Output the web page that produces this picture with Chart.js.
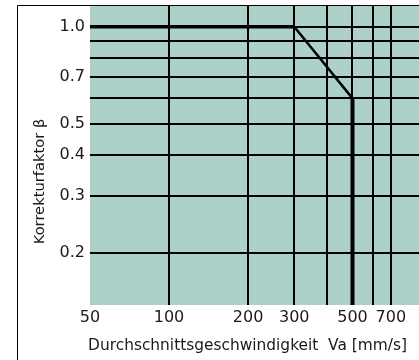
<!DOCTYPE html>
<html>
<head>
<meta charset="utf-8">
<script src="https://cdn.jsdelivr.net/npm/chart.js@4/dist/chart.umd.min.js"></script>
<style>
  html, body { margin: 0; padding: 0; background: #fff; overflow: hidden; }
  #wrap { width: 419px; height: 360px; }
</style>
</head>
<body>
<div id="wrap"><canvas id="c" width="419" height="360"></canvas></div>
<script>
// Average speed Va [mm/s] and correction factor beta
const speedPoints = [50, 300, 500, 500];
const betaPoints = [1.0, 1.0, 0.6, 0.1];

// Grid positions and labelled ticks
const speedGrid = [50, 100, 200, 300, 400, 500, 600, 700];
const speedLabels = [50, 100, 200, 300, 500, 700];
const betaGrid = [0.2, 0.3, 0.4, 0.5, 0.6, 0.7, 0.8, 0.9, 1.0];
const betaLabels = [0.2, 0.3, 0.4, 0.5, 0.7, 1.0];

// Axis titles
const xTitle = 'Durchschnittsgeschwindigkeit  Va [mm/s]';
const yTitle = 'Korrekturfaktor β';

// Line width of each curve segment: flat part, slope, cut-off
const segmentWidths = [3.5, 2.5, 4];

const FONT = '"DejaVu Sans", sans-serif';
const TEXT = '#1a1a1a';

// teal plot box and the thin frame around the whole figure
const framePlugin = {
  id: 'frame',
  beforeDraw(chart) {
    const { ctx, chartArea: a } = chart;
    ctx.save();
    ctx.fillStyle = '#add0c9';
    ctx.fillRect(a.left, a.top, a.right - a.left, a.bottom - a.top);
    ctx.strokeStyle = '#000';
    ctx.lineWidth = 1;
    ctx.beginPath();
    ctx.moveTo(17.5, chart.height);
    ctx.lineTo(17.5, 5.5);
    ctx.lineTo(chart.width, 5.5);
    ctx.stroke();
    ctx.restore();
  }
};

// axis titles, centred on the framed figure rather than the plot box
const titlePlugin = {
  id: 'axisTitles',
  afterDraw(chart) {
    const { ctx } = chart;
    ctx.save();
    ctx.fillStyle = TEXT;
    ctx.font = '15.4px ' + FONT;
    ctx.textAlign = 'center';
    ctx.textBaseline = 'alphabetic';
    ctx.fillText(xTitle, 247.5, 350);
    ctx.translate(40, 181.5);
    ctx.rotate(-Math.PI / 2);
    ctx.font = '14.7px ' + FONT;
    ctx.textBaseline = 'middle';
    ctx.fillText(yTitle, 0, 0);
    ctx.restore();
  }
};

// keep the plot box fixed: no extra room reserved for edge labels
const noEdgePadding = s => {
  s.paddingTop = 0; s.paddingBottom = 0;
  s.paddingLeft = 0; s.paddingRight = 0;
};

new Chart(document.getElementById('c'), {
  type: 'line',
  data: {
    datasets: [{
      data: speedPoints.map((v, i) => ({ x: v, y: betaPoints[i] })),
      borderColor: '#000',
      borderWidth: 3,
      pointRadius: 0,
      tension: 0,
      segment: {
        borderWidth: ctx => segmentWidths[ctx.p0DataIndex]
      }
    }]
  },
  options: {
    responsive: false,
    animation: false,
    events: [],
    layout: { padding: { top: 6, right: 0, left: 0, bottom: 0 } },
    plugins: { legend: { display: false }, tooltip: { enabled: false } },
    scales: {
      x: {
        type: 'logarithmic',
        position: 'bottom',
        min: 50,
        max: 896,
        afterBuildTicks: s => { s.ticks = speedGrid.map(v => ({ value: v })); },
        afterFit: s => { s.height = 55; noEdgePadding(s); },
        border: { display: false },
        grid: {
          color: c => (c.tick && c.tick.value === 50) ? 'rgba(0,0,0,0)' : '#000',
          lineWidth: 2,
          drawTicks: false
        },
        ticks: {
          autoSkip: false,
          maxRotation: 0,
          padding: 3,
          color: TEXT,
          font: { family: FONT, size: 16 },
          callback: v => speedLabels.includes(v) ? String(v) : ''
        }
      },
      y: {
        type: 'logarithmic',
        min: 0.1377,
        max: 1.159,
        afterBuildTicks: s => { s.ticks = betaGrid.map(v => ({ value: v })); },
        afterFit: s => { s.width = 90; noEdgePadding(s); },
        border: { display: false },
        grid: { color: '#000', lineWidth: 2, drawTicks: false },
        ticks: {
          autoSkip: false,
          padding: 5,
          color: TEXT,
          font: { family: FONT, size: 16 },
          callback: v => betaLabels.includes(v) ? v.toFixed(1) : ''
        }
      }
    }
  },
  plugins: [framePlugin, titlePlugin]
});
</script>
</body>
</html>
